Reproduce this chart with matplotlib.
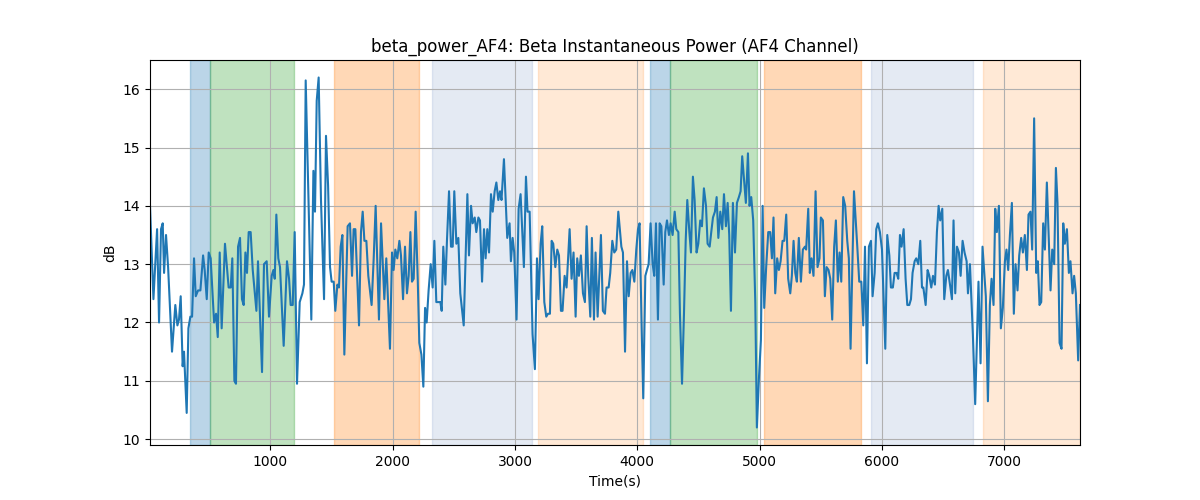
import matplotlib
matplotlib.use("Agg")
import matplotlib.pyplot as plt

# time (s) and beta power (dB)
t = [16, 44, 74, 90, 106, 120, 131, 147, 164, 196, 223, 240, 253, 267, 283, 294, 316, 330, 346, 360,
     376, 390, 409, 428, 450, 463, 480, 496, 512, 540, 556, 570, 586, 602, 629, 659, 676, 689, 706, 719,
     736, 752, 768, 782, 796, 809, 823, 839, 856, 886, 899, 932, 948, 970,
     989, 1011, 1025, 1036, 1049, 1065, 1079, 1109, 1136, 1153, 1166, 1183, 1199, 1218, 1240, 1262, 1275,
     1289, 1311, 1335, 1352, 1365, 1379, 1395, 1414, 1439, 1455, 1472, 1488, 1501, 1518, 1531, 1548, 1561,
     1575, 1589, 1605, 1632, 1651, 1668, 1681, 1695, 1709, 1725, 1741, 1755, 1769, 1785, 1801, 1828, 1845,
     1861, 1888, 1905, 1932,
     1948, 1978, 1995, 2008, 2022, 2038, 2055, 2068, 2085, 2101, 2117, 2131, 2145, 2158, 2172, 2188, 2205,
     2218, 2235, 2251, 2265, 2278, 2294, 2311, 2327, 2341, 2357, 2376, 2390, 2401, 2414, 2431, 2444, 2461,
     2477, 2491, 2504, 2521, 2537, 2553, 2581, 2611, 2624, 2641, 2654, 2671, 2684, 2701, 2714, 2731, 2747,
     2760, 2774, 2788, 2804, 2818, 2834, 2848, 2864, 2878, 2890, 2910,
     2937, 2956, 2967, 2981, 2994, 3013, 3030, 3046, 3073, 3090, 3103, 3120, 3144, 3163, 3180, 3193, 3210,
     3223, 3240, 3256, 3270, 3286, 3300, 3313, 3330, 3346, 3360, 3376, 3389, 3406, 3422, 3447, 3463, 3479,
     3496, 3509, 3523, 3539, 3556, 3572, 3586, 3599, 3616, 3629, 3646, 3659, 3676, 3703, 3719, 3736, 3749,
     3766, 3779, 3796, 3812, 3828, 3845,
     3870, 3883, 3900, 3916, 3930, 3946, 3960, 3976, 3992, 4006, 4019, 4036, 4049, 4066, 4079, 4093, 4109,
     4126, 4139, 4153, 4169, 4183, 4197, 4216, 4229, 4243, 4259, 4273, 4289, 4306, 4319, 4336, 4349, 4366,
     4382, 4396, 4409, 4426, 4439, 4455, 4469, 4485, 4499, 4515, 4529, 4545, 4562, 4575, 4592, 4605, 4619,
     4635, 4649, 4663, 4679, 4695, 4709, 4725, 4739, 4752, 4766, 4782, 4799,
     4815, 4831, 4845, 4858, 4875, 4888, 4905, 4918, 4932, 4948, 4965, 4978, 4995, 5011, 5025, 5038, 5054,
     5071, 5087, 5101, 5114, 5128, 5144, 5158, 5172, 5188, 5202, 5218, 5234, 5251, 5264, 5278, 5292, 5305,
     5321, 5338, 5354, 5371, 5381, 5398, 5411, 5425, 5441, 5458, 5474, 5490, 5501, 5518, 5534, 5548, 5564,
     5578, 5594, 5610, 5624, 5640, 5654, 5668, 5684, 5700, 5717, 5730, 5744,
     5772, 5799, 5815, 5832, 5848, 5862, 5878, 5894, 5911, 5924, 5941, 5954, 5968, 5984, 6001, 6028, 6044,
     6061, 6074, 6090, 6104, 6120, 6134, 6148, 6161, 6178, 6194, 6208, 6224, 6238, 6251, 6268, 6281, 6298,
     6314, 6328, 6339, 6358, 6374, 6388, 6404, 6418, 6434, 6450, 6464, 6477, 6494, 6510, 6527, 6540, 6557,
     6573, 6586, 6600, 6614, 6630, 6644, 6660, 6676, 6693, 6704, 6720,
     6744, 6763, 6790, 6807, 6823, 6850, 6867, 6883, 6897, 6913, 6927, 6940, 6957, 6973, 6989, 7006, 7019,
     7033, 7047, 7063, 7079, 7093, 7109, 7123, 7139, 7153, 7169, 7186, 7199, 7215, 7229, 7245, 7262, 7275,
     7289, 7303, 7319, 7333, 7349, 7363, 7379, 7393, 7409, 7423, 7436, 7453, 7469, 7483, 7496, 7513, 7529,
     7542, 7559, 7572, 7586, 7605, 7620]

power = [14.0, 12.4, 13.6, 12.0, 13.6, 13.7, 12.85, 13.5, 12.95, 11.5, 12.3, 11.95, 12.05, 12.45, 11.25, 11.5, 10.45, 11.9, 12.1, 12.1,
         13.1, 12.45, 12.55, 12.55, 13.15, 12.9, 12.4, 13.2, 13.1, 12.0, 12.15, 11.75, 13.2, 11.9, 13.35, 12.6, 12.6, 13.1, 11.0, 10.95,
         13.3, 13.45, 12.4, 12.3, 13.2, 12.85, 13.55, 13.55, 12.9, 12.2, 13.05, 11.15, 13.0, 13.05,
         12.1, 12.8, 12.9, 12.75, 13.85, 13.1, 12.95, 11.6, 13.05, 12.75, 12.3, 12.3, 13.55, 10.95, 12.35, 12.5, 12.65,
         16.15, 14.2, 12.05, 14.6, 13.9, 15.8, 16.2, 14.1, 12.4, 15.2, 14.35, 12.95, 12.7, 12.7, 12.2, 12.65, 12.6,
         13.3, 13.5, 11.45, 13.65, 13.7, 12.8, 13.6, 13.6, 12.85, 11.95, 13.55, 13.9, 13.4, 13.4, 12.8, 12.3, 13.1,
         14.0, 12.05, 13.7, 12.4,
         13.1, 11.55, 13.2, 12.9, 13.25, 13.1, 13.4, 13.15, 12.4, 13.3, 12.5, 12.8, 13.55, 12.7, 12.75, 13.9, 12.75,
         11.65, 11.45, 10.9, 12.25, 12.0, 12.55, 13.0, 12.6, 13.4, 12.35, 12.35, 12.35, 12.2, 13.3, 12.65, 13.4, 14.25,
         13.3, 13.3, 14.25, 13.35, 13.45, 12.5, 11.95, 14.2, 13.15, 14.0, 13.7, 13.8, 13.55, 13.8, 13.75, 12.7, 13.6,
         13.1, 13.6, 13.2, 14.2, 13.9, 14.25, 14.4, 14.1, 14.25, 14.1, 14.8,
         13.45, 13.7, 13.05, 13.45, 13.2, 12.05, 13.95, 14.2, 12.95, 14.5, 13.9, 13.9, 11.8, 11.2, 13.1, 12.4, 13.35,
         13.65, 12.35, 12.1, 12.15, 12.15, 13.4, 13.35, 12.95, 13.25, 13.15, 12.2, 12.2, 12.8, 12.6, 13.6, 12.75, 13.2,
         12.1, 13.1, 12.8, 13.15, 12.5, 12.35, 13.65, 12.8, 12.1, 13.45, 12.05, 13.2, 12.1, 13.5, 12.2, 12.15, 12.6,
         12.6, 12.85, 13.4, 13.2, 13.25, 13.9,
         13.3, 13.2, 11.5, 13.05, 12.45, 12.85, 12.9, 12.7, 13.25, 13.6, 13.7, 11.9, 10.7, 12.8, 12.9, 13.0, 13.7,
         13.0, 12.8, 13.7, 12.05, 13.7, 13.65, 12.65, 13.55, 13.75, 13.5, 13.7, 13.5, 13.9, 13.6, 13.55, 12.15, 10.95,
         12.15, 13.4, 14.1, 13.55, 13.2, 14.5, 14.1, 13.2, 13.35, 13.75, 13.65, 14.3, 14.0, 13.35, 13.3, 13.55, 13.8,
         13.9, 14.15, 13.45, 13.9, 13.6, 14.2, 13.65, 14.05, 13.5, 12.2, 14.05, 13.2,
         14.05, 14.15, 14.25, 14.85, 14.4, 14.05, 14.9, 14.0, 14.15, 13.75, 12.35, 10.2, 11.05, 11.7, 14.0, 12.25, 12.95,
         13.55, 13.55, 13.1, 13.8, 12.5, 13.1, 12.9, 13.05, 13.4, 13.4, 13.85, 12.75, 12.5, 12.8, 13.4, 12.85, 12.7,
         13.45, 12.7, 13.25, 13.3, 13.25, 13.95, 12.85, 13.1, 12.8, 14.25, 12.95, 13.1, 13.8, 13.75, 12.45, 12.95, 12.9,
         12.75, 12.05, 13.3, 13.75, 12.7, 13.2, 12.7, 14.15, 14.0, 13.4, 13.1, 11.55,
         14.25, 13.3, 12.7, 12.7, 11.95, 13.3, 11.3, 13.3, 13.4, 12.45, 12.85, 13.6, 13.7, 13.55, 13.25, 11.55, 13.5,
         13.15, 12.6, 12.6, 12.85, 12.85, 12.75, 13.5, 13.3, 13.6, 12.75, 12.3, 12.3, 12.4, 12.85, 13.05, 13.1, 13.0,
         13.4, 12.6, 12.6, 12.3, 12.9, 12.8, 12.6, 12.8, 12.65, 13.55, 14.0, 13.75, 13.95, 12.4, 12.8, 12.9, 12.65,
         12.4, 13.75, 12.5, 13.3, 13.2, 12.8, 13.4, 13.2, 13.05, 12.5, 13.0,
         11.8, 10.6, 12.7, 11.3, 13.3, 12.45, 10.65, 12.3, 12.75, 12.3, 13.95, 13.55, 14.0, 11.9, 12.25, 13.05, 13.25,
         12.9, 13.5, 14.05, 12.15, 13.0, 12.55, 13.15, 13.45, 13.2, 13.5, 12.9, 13.85, 13.9, 13.25, 15.5, 12.85, 13.05,
         12.3, 12.35, 13.7, 13.25, 14.4, 13.55, 12.55, 13.25, 13.0, 14.65, 14.05, 11.65, 11.55, 13.7, 13.35, 13.6, 12.85,
         13.05, 12.5, 12.8, 12.5, 11.35, 12.3]

# shaded segments: (start, end, colour, alpha)
span_start = [346, 505, 1521, 2322, 3188, 4104, 4270, 5035, 5911, 6826]
span_end = [505, 1190, 2212, 3138, 4046, 4270, 4980, 5826, 6742, 7620]
span_color = ['C0', 'C2', 'C1', '#4c72b0', 'C1', 'C0', 'C2', 'C1', '#4c72b0', 'C1']
span_alpha = [0.3, 0.3, 0.3, 0.15, 0.17, 0.3, 0.3, 0.3, 0.15, 0.17]

fig, ax = plt.subplots(figsize=(12, 5), dpi=100)

for s, e, c, a in zip(span_start, span_end, span_color, span_alpha):
    ax.axvspan(s, e, color=c, alpha=a)

ax.plot(t, power, color='C0')
ax.set_xlim(t[0], t[-1])
ax.set_title('beta_power_AF4: Beta Instantaneous Power (AF4 Channel)')
ax.set_xlabel('Time(s)')
ax.set_ylabel('dB')
ax.grid(True)

fig.savefig('out.png')
